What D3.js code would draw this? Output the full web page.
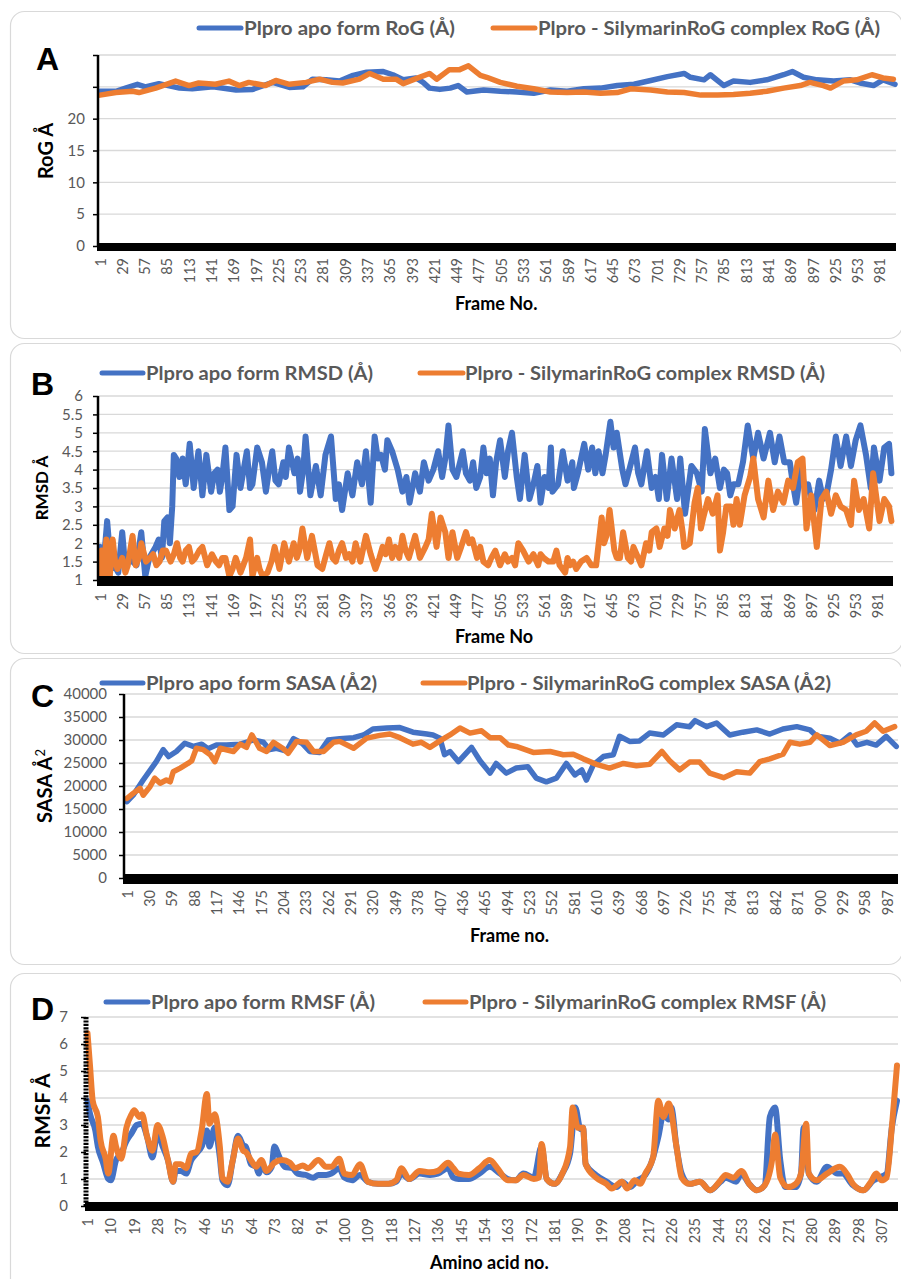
<!DOCTYPE html>
<html>
<head>
<meta charset="utf-8">
<script src="https://cdn.jsdelivr.net/npm/d3@7"></script>
<style>
  body { margin: 0; background: #fff; }
  text { font-family: Lato, "Open Sans", sans-serif; }
</style>
</head>
<body>
<svg width="901" height="1279"></svg>
<script>
// ---- data: [frame or residue, value] ----
var rogApo = [[1,24.3],[21,24.3],[33,24.8],[48,25.4],[58,25.0],[75,25.5],[101,24.8],[117,24.7],[143,25.0],[172,24.5],[193,24.6],[218,25.7],[239,24.9],[256,25.0],[268,26.2],[285,26.1],[302,25.9],[319,26.8],[336,27.3],[357,27.4],[369,26.9],[382,26.1],[398,26.4],[407,25.7],[415,24.8],[428,24.6],[441,24.8],[451,25.2],[462,24.2],[483,24.5],[504,24.3],[525,24.2],[546,24.0],[567,24.5],[588,24.3],[609,24.7],[630,24.8],[651,25.2],[672,25.4],[693,26.0],[714,26.6],[735,27.1],[743,26.5],[760,26.1],[768,26.9],[785,25.2],[797,25.9],[818,25.7],[839,26.1],[860,26.9],[871,27.4],[885,26.5],[902,26.1],[923,25.9],[944,26.1],[956,25.6],[973,25.2],[985,26.1],[1000,25.4]];
var rogCplx = [[1,23.7],[21,24.1],[42,24.3],[50,24.1],[71,24.8],[96,25.9],[113,25.2],[125,25.6],[146,25.4],[163,25.9],[176,25.2],[188,25.7],[209,25.2],[222,26.0],[239,25.4],[260,25.7],[277,26.2],[293,25.7],[306,25.6],[327,26.2],[340,27.1],[357,26.2],[373,26.2],[382,25.5],[394,26.1],[415,27.1],[424,26.2],[440,27.7],[453,27.7],[464,28.3],[479,26.8],[487,26.5],[504,25.7],[525,25.1],[546,24.7],[567,24.2],[588,24.1],[609,24.2],[630,24.0],[651,24.1],[668,24.7],[693,24.5],[714,24.2],[735,24.1],[756,23.7],[777,23.7],[797,23.8],[818,24.0],[839,24.3],[860,24.8],[881,25.2],[893,25.7],[910,25.2],[919,24.8],[935,25.9],[952,26.1],[971,26.9],[985,26.4],[998,26.2]];

var rmsdApo = [[1,1.9],[5,1.3],[10,2.6],[15,1.3],[19,1.4],[24,1.2],[29,2.3],[33,1.3],[38,1.6],[42,1.5],[47,1.4],[53,2.3],[58,1.1],[63,1.6],[71,1.9],[75,2.1],[79,1.6],[82,2.6],[86,2.7],[89,2.0],[92,3.0],[94,4.4],[97,4.3],[101,3.8],[105,4.3],[109,3.6],[114,4.7],[119,3.5],[125,4.5],[130,3.3],[135,4.4],[141,3.4],[145,3.9],[149,4.0],[152,3.4],[155,3.8],[159,4.6],[164,2.9],[168,3.0],[173,4.4],[178,3.5],[182,4.0],[186,4.5],[190,3.5],[193,3.6],[199,4.6],[205,4.2],[210,3.4],[214,4.0],[218,4.5],[222,3.7],[226,3.6],[232,4.2],[235,3.8],[239,4.6],[246,3.9],[250,4.3],[253,3.4],[257,4.0],[260,4.9],[266,3.3],[273,4.1],[279,3.3],[285,4.4],[292,4.9],[298,3.2],[302,3.6],[306,2.9],[313,3.9],[319,3.3],[325,4.2],[331,3.6],[336,4.5],[342,3.1],[347,4.9],[351,4.3],[355,4.4],[360,4.0],[363,4.8],[369,4.5],[376,4.0],[382,3.4],[387,3.8],[391,3.1],[398,3.9],[404,3.4],[409,4.2],[415,3.7],[421,4.0],[427,4.5],[432,3.8],[436,4.3],[440,5.2],[445,4.0],[450,3.8],[458,4.5],[462,3.9],[467,3.7],[471,4.2],[475,3.5],[480,3.8],[484,4.6],[488,3.9],[492,4.3],[496,3.3],[500,4.2],[505,4.8],[511,3.8],[515,4.5],[520,5.0],[526,3.8],[530,3.2],[536,4.4],[542,3.2],[547,3.6],[552,4.1],[556,3.1],[561,3.8],[566,3.5],[569,4.6],[571,3.4],[578,3.6],[584,4.5],[590,3.7],[596,4.2],[598,3.5],[603,3.9],[611,4.7],[616,4.0],[621,4.6],[625,3.9],[629,4.5],[634,3.9],[638,4.4],[644,5.3],[648,4.6],[652,5.0],[659,4.0],[663,3.6],[669,4.1],[675,4.6],[679,3.9],[683,3.6],[690,4.5],[696,3.5],[701,3.8],[705,3.2],[709,4.4],[715,3.2],[721,4.3],[728,3.2],[732,4.3],[738,2.8],[746,4.1],[753,3.9],[759,3.4],[763,5.1],[770,3.9],[776,4.3],[782,3.5],[787,4.0],[791,3.9],[795,3.3],[799,3.6],[805,3.6],[811,4.2],[817,5.2],[824,4.3],[830,5.0],[837,4.3],[845,5.0],[851,4.2],[857,4.9],[863,4.2],[870,4.2],[874,3.6],[878,3.1],[884,4.0],[889,3.5],[893,3.6],[897,3.2],[901,2.9],[907,3.7],[912,3.2],[916,3.3],[922,4.0],[928,4.9],[934,4.1],[941,4.9],[947,4.1],[953,4.8],[959,5.2],[966,4.4],[972,3.5],[976,4.6],[983,3.7],[989,4.6],[995,4.7],[998,3.9]];
var rmsdCplx = [[1,1.0],[3,1.8],[5,1.1],[9,2.1],[13,1.0],[17,2.1],[20,1.5],[23,1.3],[29,1.6],[33,1.2],[36,1.4],[42,2.2],[46,1.4],[50,1.6],[53,2.0],[59,1.5],[64,1.6],[68,1.7],[72,1.4],[76,1.5],[80,1.8],[84,1.8],[90,1.5],[94,1.7],[98,2.0],[102,1.6],[105,1.5],[109,1.8],[113,1.9],[117,1.5],[121,1.6],[126,1.8],[130,1.9],[136,1.4],[142,1.7],[147,1.5],[151,1.4],[155,1.6],[159,1.6],[164,1.1],[168,1.3],[172,1.6],[178,1.2],[185,1.6],[190,2.1],[193,1.1],[199,1.6],[202,1.3],[206,1.1],[212,1.2],[217,1.5],[221,1.9],[227,1.3],[233,2.0],[239,1.5],[245,2.0],[249,1.6],[252,1.8],[256,2.4],[262,1.6],[268,2.2],[275,1.4],[281,1.3],[286,1.7],[290,2.0],[294,1.6],[298,1.5],[302,1.8],[306,2.0],[311,1.6],[315,1.7],[319,1.5],[323,2.0],[329,1.5],[336,2.2],[342,1.7],[348,1.3],[353,1.6],[357,1.9],[361,1.7],[365,2.1],[369,1.6],[373,1.9],[378,1.6],[382,2.2],[386,1.8],[390,1.6],[394,1.9],[398,2.2],[404,1.6],[411,1.9],[415,2.1],[419,2.8],[425,1.9],[430,2.7],[436,2.3],[440,1.6],[445,2.3],[451,1.6],[456,1.9],[462,2.3],[466,2.0],[470,2.1],[476,1.6],[480,1.9],[484,1.5],[490,1.4],[494,1.6],[499,1.8],[505,1.4],[511,1.7],[515,1.5],[520,1.6],[524,1.4],[528,2.0],[534,1.8],[541,1.5],[547,1.7],[553,1.4],[556,1.7],[560,1.6],[566,1.5],[572,1.5],[576,1.8],[580,1.4],[587,1.2],[590,1.6],[593,1.4],[597,1.5],[601,1.3],[607,1.5],[614,1.6],[620,1.4],[626,1.4],[633,2.7],[636,2.0],[639,2.2],[643,2.9],[649,1.8],[652,1.6],[656,1.6],[660,2.3],[666,1.6],[670,1.5],[673,1.9],[679,1.6],[683,1.4],[689,2.0],[693,1.8],[696,2.3],[702,2.4],[706,1.9],[712,2.4],[716,2.2],[719,2.9],[725,2.4],[731,2.9],[735,2.3],[737,1.9],[744,2.0],[750,3.1],[754,3.5],[758,2.4],[761,2.7],[767,3.2],[773,2.8],[779,3.3],[782,1.8],[786,2.3],[790,3.0],[796,3.0],[799,2.5],[803,3.2],[807,2.5],[813,3.3],[820,3.8],[824,4.3],[830,3.2],[837,2.7],[843,3.7],[849,2.9],[855,3.4],[862,3.1],[868,3.7],[874,3.5],[880,4.2],[886,4.3],[891,2.4],[897,3.3],[904,1.9],[910,3.2],[916,3.4],[922,2.8],[928,3.3],[934,3.0],[941,2.9],[947,2.5],[951,3.7],[957,2.9],[963,3.2],[970,2.4],[975,3.9],[983,2.6],[989,3.2],[995,3.0],[998,2.6]];

var sasaApo = [[1,16600],[9,18000],[22,21300],[33,23900],[39,25300],[48,27900],[55,26400],[65,27500],[76,29300],[87,28600],[98,29100],[106,28100],[117,28900],[130,28900],[148,29100],[165,30000],[178,29500],[186,27900],[195,28200],[208,27600],[217,30300],[228,29300],[238,27500],[251,27300],[262,30000],[277,30300],[295,30500],[308,31100],[320,32400],[338,32600],[355,32700],[372,31700],[390,31300],[398,31100],[407,30400],[413,26800],[420,27500],[431,25300],[448,28400],[459,25500],[472,22800],[480,24900],[493,22800],[506,23900],[521,24200],[532,21700],[545,20900],[558,21700],[571,24900],[582,22400],[591,23500],[597,21300],[606,24600],[619,26400],[632,26800],[640,30800],[653,29700],[666,29800],[679,31500],[697,31100],[714,33300],[731,32900],[738,34200],[753,32900],[766,33700],[783,31100],[800,31700],[818,32200],[835,31300],[852,32400],[870,32900],[887,32200],[896,30800],[913,30400],[926,29300],[939,31100],[948,28900],[961,29500],[973,28900],[986,30800],[999,28600]];
var sasaCplx = [[1,17300],[9,18400],[18,19500],[22,18000],[31,19900],[37,21700],[44,20600],[52,21300],[57,20900],[61,23100],[70,23900],[80,24900],[85,25500],[91,28200],[100,27900],[109,26800],[115,25300],[122,28200],[139,27500],[148,29100],[156,28400],[163,31100],[173,28200],[182,27500],[191,29500],[204,28100],[210,27100],[221,29700],[234,29500],[243,27500],[256,27500],[269,29500],[277,29700],[295,28200],[312,30400],[329,31000],[342,31300],[355,30500],[372,29100],[383,29500],[394,28400],[407,29800],[420,31100],[433,32600],[446,31500],[461,32000],[472,30500],[485,30500],[496,28900],[506,28600],[528,27300],[550,27500],[567,26800],[580,26900],[593,25900],[610,24700],[627,23900],[645,24900],[662,24400],[679,24700],[695,27500],[705,25500],[718,23500],[731,25200],[744,25200],[757,22800],[775,21800],[792,23100],[809,22800],[822,25300],[835,25900],[852,26900],[861,29500],[874,29100],[887,29500],[896,31100],[913,28800],[930,29500],[947,31100],[960,31900],[971,33700],[982,31900],[997,32900]];

var rmsfApo = [[1,3.9],[2,3.4],[4,2.8],[5,2.2],[7,1.6],[9,1.0],[10,0.95],[12,1.7],[14,1.95],[16,2.4],[18,2.7],[20,3.0],[22,3.05],[24,2.55],[26,1.8],[28,2.7],[30,2.2],[32,1.7],[34,0.9],[35,1.3],[37,1.3],[39,1.2],[41,1.7],[43,1.95],[45,2.2],[47,2.8],[48,2.2],[50,2.9],[52,1.8],[53,0.95],[55,0.77],[57,1.7],[59,2.6],[61,2.25],[62,2.2],[64,1.55],[66,1.45],[67,1.2],[68,1.5],[70,1.25],[72,1.45],[73,2.2],[75,1.8],[77,1.45],[80,1.4],[82,1.2],[85,1.15],[88,1.05],[90,1.15],[93,1.15],[95,1.2],[98,1.4],[100,1.05],[103,0.95],[106,1.15],[109,0.9],[113,0.82],[117,0.82],[120,0.9],[122,1.2],[125,1.0],[129,1.2],[133,1.15],[136,1.2],[140,1.4],[142,1.05],[144,1.0],[148,1.0],[152,1.2],[156,1.45],[160,1.2],[163,1.0],[166,0.95],[169,1.2],[173,1.05],[176,2.2],[178,1.0],[181,0.82],[184,1.2],[187,1.95],[189,3.65],[191,2.85],[192,2.9],[193,1.55],[197,1.15],[201,0.9],[205,0.7],[207,0.9],[210,0.7],[213,0.95],[216,1.15],[219,1.8],[221,2.55],[223,3.4],[225,3.2],[226,3.65],[228,2.2],[230,1.2],[233,0.82],[237,0.9],[241,0.58],[245,0.9],[247,1.05],[251,0.9],[253,1.2],[256,0.82],[259,0.58],[262,0.77],[264,3.3],[266,3.65],[268,1.7],[270,0.7],[274,0.7],[276,1.2],[277,2.9],[279,1.2],[282,0.9],[286,1.45],[290,1.2],[292,1.2],[296,0.77],[300,0.58],[304,0.95],[306,1.05],[309,1.2],[311,2.9],[313,3.9]];
var rmsfCplx = [[1,6.4],[2,5.15],[3,3.9],[5,3.3],[6,2.45],[8,1.75],[9,1.2],[11,2.6],[12,2.2],[14,1.75],[16,2.9],[18,3.4],[19,3.55],[21,3.3],[22,3.4],[24,2.55],[26,2.05],[28,3.0],[30,2.55],[32,1.7],[34,0.9],[35,1.55],[37,1.55],[39,1.4],[41,1.95],[43,2.0],[45,2.8],[47,4.15],[48,3.05],[50,3.4],[52,2.2],[53,1.05],[55,0.9],[57,1.7],[59,2.5],[61,2.05],[62,2.0],[64,1.7],[66,1.45],[68,1.7],[70,1.3],[73,1.6],[76,1.7],[79,1.6],[81,1.4],[84,1.5],[86,1.4],[90,1.7],[93,1.45],[95,1.45],[98,1.75],[100,1.2],[103,1.15],[106,1.55],[109,0.9],[113,0.82],[117,0.82],[120,0.95],[122,1.4],[125,1.0],[129,1.3],[133,1.25],[136,1.3],[140,1.6],[142,1.4],[144,1.2],[148,1.15],[152,1.4],[156,1.7],[159,1.4],[163,0.95],[166,0.95],[169,1.15],[173,1.0],[175,1.05],[176,2.3],[178,1.0],[181,0.82],[184,1.2],[187,2.2],[188,3.65],[190,2.9],[192,2.9],[193,1.55],[197,1.05],[201,0.82],[203,0.65],[207,0.9],[209,0.65],[212,0.95],[214,0.82],[216,1.2],[219,1.8],[221,3.9],[223,3.3],[225,3.8],[228,2.2],[230,1.05],[233,0.82],[237,0.9],[241,0.58],[245,0.95],[247,1.15],[250,1.05],[253,1.3],[256,0.82],[259,0.58],[262,0.77],[265,1.8],[266,2.65],[268,1.05],[271,0.7],[274,0.82],[276,1.2],[278,3.05],[279,1.2],[282,0.95],[286,1.2],[291,1.45],[294,1.15],[296,0.82],[300,0.58],[303,0.9],[305,1.2],[307,0.95],[309,1.05],[311,2.9],[313,5.2]];

// tick labels
var rogXTicks = d3.range(1, 1001, 28);
var sasaXTicks = d3.range(1, 1001, 29);
var rmsfXTicks = d3.range(1, 314, 9);
var rogYGrid = [0, 5, 10, 15, 20, 25, 30];
var rogYLabels = [0, 5, 10, 15, 20];
var rmsdYGrid = [1, 1.5, 2, 2.5, 3, 3.5, 4, 4.5, 5, 5.5, 6];
var sasaYGrid = [0, 5000, 10000, 15000, 20000, 25000, 30000, 35000, 40000];
var rmsfYGrid = [0, 1, 2, 3, 4, 5, 6, 7];

var legendApo = ["Plpro apo form RoG (Å)", "Plpro apo form RMSD (Å)", "Plpro apo form SASA (Å2)", "Plpro apo form RMSF (Å)"];
var legendCplx = ["Plpro - SilymarinRoG complex RoG (Å)", "Plpro - SilymarinRoG complex RMSD (Å)", "Plpro - SilymarinRoG complex SASA (Å2)", "Plpro - SilymarinRoG complex RMSF (Å)"];

var blue = "#4472C4", orange = "#ED7D31", grey = "#595959";
var svg = d3.select("svg");

// panel cards
[[11, 327], [343, 310], [658, 306], [973, 330]].forEach(function (c) {
  svg.append("rect")
      .attr("x", 10.5).attr("y", c[0] + 0.5)
      .attr("width", 892).attr("height", c[1])
      .attr("rx", 14)
      .attr("fill", "#fff")
      .attr("stroke", "#d9d9d9")
      .attr("stroke-width", 1.2);
});

function drawPanel(p) {
  var x = d3.scaleLinear().domain(p.xDomain).range(p.xRange);
  var y = d3.scaleLinear().domain(p.yDomain).range(p.yRange);
  var g = svg.append("g");
  var base = y(p.yDomain[0]);

  g.append("g").selectAll("line")
      .data(p.yGrid)
      .enter()
      .append("line")
      .attr("x1", p.axisX).attr("x2", p.right)
      .attr("y1", function (d) { return y(d); })
      .attr("y2", function (d) { return y(d); })
      .attr("stroke", "#d9d9d9")
      .attr("stroke-width", 1.3);

  var line = d3.line()
      .x(function (d) { return x(d[0]); })
      .y(function (d) { return y(d[1]); })
      .curve(p.curve || d3.curveLinear);

  [[p.apo, blue, p.w1], [p.cplx, orange, p.w2]].forEach(function (s) {
    g.append("path")
        .datum(s[0])
        .attr("d", line)
        .attr("fill", "none")
        .attr("stroke", s[1])
        .attr("stroke-width", s[2])
        .attr("stroke-linejoin", "round")
        .attr("stroke-linecap", "round");
  });

  // y axis
  var yAxis = d3.axisLeft(y)
      .tickValues(p.yGrid)
      .tickSize(5)
      .tickPadding(p.yPad)
      .tickFormat(function (d) { return p.yLabels.indexOf(d) >= 0 ? d : ""; });
  var ya = g.append("g").attr("transform", "translate(" + p.axisX + ",0)").call(yAxis);
  ya.select(".domain").remove();
  ya.selectAll("line").attr("stroke", "#000").attr("stroke-width", 1.5);
  ya.selectAll("text").attr("fill", grey).style("font-size", p.yFont + "px");
  g.append("line")
      .attr("x1", p.axisX).attr("x2", p.axisX)
      .attr("y1", y(p.yDomain[1])).attr("y2", base)
      .attr("stroke", "#000")
      .attr("stroke-width", p.yAxisW)
      .attr("stroke-dasharray", p.yDash || null);

  // x axis: thick band of dense tick marks
  var xAxis = d3.axisBottom(x).tickValues(p.xTicks).tickSize(0).tickPadding(0);
  var xa = g.append("g").attr("transform", "translate(0," + base + ")").call(xAxis);
  xa.select(".domain").remove();
  xa.selectAll("text")
      .attr("transform", "rotate(-90)")
      .attr("x", -p.xLabOff)
      .attr("y", 0)
      .attr("dy", "0.35em")
      .attr("fill", grey)
      .style("text-anchor", "end")
      .style("font-size", "14.5px");
  g.append("line")
      .attr("x1", p.axisX - 1).attr("x2", p.right)
      .attr("y1", base + p.bandOff).attr("y2", base + p.bandOff)
      .attr("stroke", "#000")
      .attr("stroke-width", p.bandW);

  // titles
  g.append("text")
      .attr("x", p.xTitle[0]).attr("y", p.xTitle[1])
      .style("font-weight", "bold").style("font-size", "18px")
      .text(p.xTitleText);
  var yt = g.append("text")
      .attr("transform", "translate(" + p.yTitle[0] + "," + p.yTitle[1] + ") rotate(-90)")
      .style("text-anchor", "middle")
      .style("font-weight", "bold").style("font-size", p.yTitleFont + "px")
      .text(p.yTitleText);
  if (p.yTitleSup) {
    yt.append("tspan").attr("dy", "-0.55em").style("font-size", "13px").style("font-weight", "normal").text(p.yTitleSup);
  }
  g.append("text")
      .attr("x", p.letter[0]).attr("y", p.letter[1])
      .style("font-family", "'Liberation Sans', Arial, sans-serif")
      .style("font-weight", "bold").style("font-size", "32px")
      .text(p.letterText);

  // legend
  p.legend.forEach(function (l, i) {
    g.append("line")
        .attr("x1", l[0]).attr("x2", l[1])
        .attr("y1", p.legendY).attr("y2", p.legendY)
        .attr("stroke", i ? orange : blue)
        .attr("stroke-width", 5)
        .attr("stroke-linecap", "round");
    g.append("text")
        .attr("x", l[2]).attr("y", p.legendY + 6.5)
        .attr("fill", grey)
        .attr("textLength", l[3]).attr("lengthAdjust", "spacingAndGlyphs")
        .style("font-weight", "bold").style("font-size", "18px")
        .text(i ? legendCplx[p.idx] : legendApo[p.idx]);
  });
}

drawPanel({
  idx: 0, apo: rogApo, cplx: rogCplx, w1: 5.5, w2: 5.5,
  xDomain: [1, 1000], xRange: [100, 895], yDomain: [0, 30], yRange: [246, 55],
  axisX: 98, right: 896, yGrid: rogYGrid, yLabels: rogYLabels, yPad: 8, yFont: 15, yAxisW: 2.5,
  xTicks: rogXTicks, xLabOff: 12, bandW: 8, bandOff: 1,
  xTitle: [455, 310], xTitleText: "Frame No.",
  yTitle: [53, 151], yTitleText: "RoG Å", yTitleFont: 20,
  letter: [36, 70], letterText: "A",
  legendY: 28, legend: [[199, 241, 244, 211], [493, 535, 538, 342]]
});

drawPanel({
  idx: 1, apo: rmsdApo, cplx: rmsdCplx, w1: 6, w2: 6,
  xDomain: [1, 1000], xRange: [100, 893], yDomain: [1, 6], yRange: [580, 396],
  axisX: 98, right: 893, yGrid: rmsdYGrid, yLabels: rmsdYGrid, yPad: 10, yFont: 15, yAxisW: 2.5,
  xTicks: rogXTicks, xLabOff: 13, bandW: 10, bandOff: 1,
  xTitle: [455, 643], xTitleText: "Frame No",
  yTitle: [48, 488], yTitleText: "RMSD  Å", yTitleFont: 17,
  letter: [31, 395], letterText: "B",
  legendY: 373, legend: [[102, 143, 146, 227], [420, 463, 465, 360]]
});

drawPanel({
  idx: 2, apo: sasaApo, cplx: sasaCplx, w1: 5.5, w2: 5.5,
  xDomain: [1, 1000], xRange: [127, 897], yDomain: [0, 40000], yRange: [878, 694],
  axisX: 124, right: 898, yGrid: sasaYGrid, yLabels: sasaYGrid, yPad: 12, yFont: 15, yAxisW: 2.5,
  xTicks: sasaXTicks, xLabOff: 12, bandW: 10, bandOff: 1,
  xTitle: [470, 942], xTitleText: "Frame no.",
  yTitle: [52, 786], yTitleText: "SASA  Å", yTitleSup: "2", yTitleFont: 20,
  letter: [31, 707], letterText: "C",
  legendY: 683, legend: [[102, 143, 146, 231], [423, 465, 467, 364]]
});

drawPanel({
  idx: 3, apo: rmsfApo, cplx: rmsfCplx, w1: 6, w2: 6, curve: d3.curveMonotoneX,
  xDomain: [1, 313], xRange: [87.5, 897], yDomain: [0, 7], yRange: [1206, 1017],
  axisX: 86, right: 898, yGrid: rmsfYGrid, yLabels: rmsfYGrid, yPad: 13, yFont: 15, yAxisW: 5, yDash: "2.2 1.2",
  xTicks: rmsfXTicks, xLabOff: 12, bandW: 9, bandOff: 0.5,
  xTitle: [430, 1269], xTitleText: "Amino acid no.",
  yTitle: [50, 1111], yTitleText: "RMSF  Å", yTitleFont: 21,
  letter: [31, 1020], letterText: "D",
  legendY: 1002, legend: [[106, 148, 151, 224], [425, 466, 469, 357]]
});
</script>
</body>
</html>
